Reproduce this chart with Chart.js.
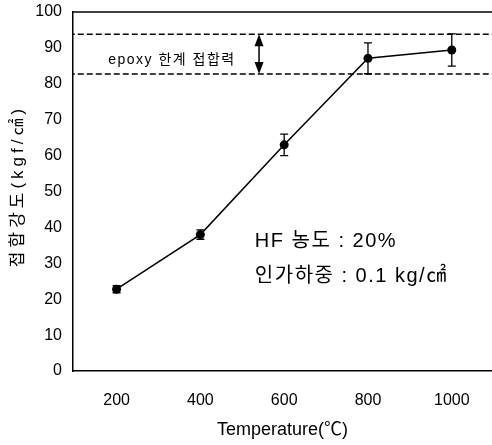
<!DOCTYPE html>
<html><head><meta charset="utf-8">
<script src="https://cdn.jsdelivr.net/npm/chart.js@4"></script>
<style>html,body{margin:0;padding:0;background:#fff}#wrap{width:492px;height:445px}</style>
</head><body><div id="wrap"><canvas id="c" width="492" height="445"></canvas></div>
<script>
const temperatures = [200, 400, 600, 800, 1000];
const strength = [22.8, 38.0, 63.0, 87.1, 89.4];
const errors = [1.0, 1.3, 3.0, 4.3, 4.5];
const epoxyLimit = [82.7, 93.8];
const xTicks = [200, 400, 600, 800, 1000];
const yTicks = [0, 10, 20, 30, 40, 50, 60, 70, 80, 90, 100];
const FONT = "'Liberation Sans', 'Noto Sans CJK KR', sans-serif";

const extras = {
  id: 'extras',
  afterDatasetsDraw(chart) {
    const {ctx, chartArea: a, scales: {x, y}} = chart;
    ctx.save();
    ctx.strokeStyle = '#000';
    ctx.lineWidth = 1.5;
    // top border
    ctx.beginPath(); ctx.moveTo(a.left, a.top); ctx.lineTo(a.right, a.top); ctx.stroke();
    // error bars
    ctx.lineWidth = 1.3;
    temperatures.forEach((t, i) => {
      const px = x.getPixelForValue(t);
      const hi = y.getPixelForValue(strength[i] + errors[i]);
      const lo = y.getPixelForValue(strength[i] - errors[i]);
      ctx.beginPath();
      ctx.moveTo(px, hi); ctx.lineTo(px, lo);
      ctx.moveTo(px - 4, hi); ctx.lineTo(px + 4, hi);
      ctx.moveTo(px - 4, lo); ctx.lineTo(px + 4, lo);
      ctx.stroke();
    });
    // double arrow between epoxy limits
    const ax = x.getPixelForValue(540);
    const y1 = y.getPixelForValue(epoxyLimit[1]);
    const y0 = y.getPixelForValue(epoxyLimit[0]);
    ctx.lineWidth = 1.5;
    ctx.beginPath(); ctx.moveTo(ax, y1 + 4); ctx.lineTo(ax, y0 - 4); ctx.stroke();
    ctx.fillStyle = '#000';
    ctx.beginPath(); ctx.moveTo(ax, y1); ctx.lineTo(ax - 4.5, y1 + 12); ctx.lineTo(ax + 4.5, y1 + 12); ctx.closePath(); ctx.fill();
    ctx.beginPath(); ctx.moveTo(ax, y0); ctx.lineTo(ax - 4.5, y0 - 12); ctx.lineTo(ax + 4.5, y0 - 12); ctx.closePath(); ctx.fill();
    // texts
    ctx.fillStyle = '#000';
    ctx.textBaseline = 'middle';
    ctx.textAlign = 'left';
    ctx.letterSpacing = '1.5px';
    ctx.font = "14px " + FONT;
    ctx.fillText('epoxy 한계 접합력', x.getPixelForValue(180), y.getPixelForValue(86.6));
    ctx.font = "20px " + FONT;
    ctx.letterSpacing = '1.5px';
    ctx.fillText('HF 농도 : 20%', x.getPixelForValue(530), y.getPixelForValue(36.0));
    ctx.fillText('인가하중 : 0.1 kg/㎠', x.getPixelForValue(530), y.getPixelForValue(26.4));
    // y axis title
    ctx.translate(18, 186);
    ctx.rotate(-Math.PI / 2);
    ctx.textAlign = 'center';
    ctx.font = "17px " + FONT;
    ctx.letterSpacing = '4px';
    ctx.fillText('접합강도(kgf/㎠)', 0, 0);
    ctx.restore();
  }
};

new Chart(document.getElementById('c'), {
  type: 'scatter',
  data: {
    datasets: [
      {
        data: temperatures.map((t, i) => ({x: t, y: strength[i]})),
        showLine: true,
        borderColor: '#000',
        backgroundColor: '#000',
        borderWidth: 1.5,
        pointStyle: 'circle',
        pointRadius: 4.5,
        pointBorderWidth: 0
      },
      ...epoxyLimit.map(v => ({
        data: [{x: 0, y: v}, {x: 1200, y: v}],
        showLine: true,
        borderColor: '#000',
        borderWidth: 1.5,
        borderDash: [6, 3],
        pointRadius: 0
      }))
    ]
  },
  options: {
    responsive: false,
    animation: false,
    layout: {autoPadding: false, padding: {top: 12, right: 0, left: 0, bottom: 0}},
    plugins: {legend: {display: false}, tooltip: {enabled: false}},
    scales: {
      x: {
        type: 'linear', min: 96, max: 1096,
        afterBuildTicks: s => { s.ticks = xTicks.map(v => ({value: v})); },
        afterFit: s => { s.height = 74; s.paddingLeft = 0; s.paddingRight = 0; },
        grid: {display: false, drawTicks: false},
        border: {color: '#000', width: 1.5},
        ticks: {color: '#000', font: {family: FONT, size: 16}, padding: 20, maxRotation: 0, callback: v => String(v)},
        title: {display: true, text: 'Temperature(℃)', color: '#000', font: {family: FONT, size: 18}, padding: {top: 9}}
      },
      y: {
        min: 0, max: 100,
        afterBuildTicks: s => { s.ticks = yTicks.map(v => ({value: v})); },
        afterFit: s => { s.width = 73; s.paddingTop = 0; s.paddingBottom = 0; },
        grid: {display: false, drawTicks: false},
        border: {color: '#000', width: 1.5},
        ticks: {color: '#000', font: {family: FONT, size: 16}, padding: 11, callback: v => String(v)},
        title: {display: false}
      }
    }
  },
  plugins: [extras]
});
</script>
</body></html>
